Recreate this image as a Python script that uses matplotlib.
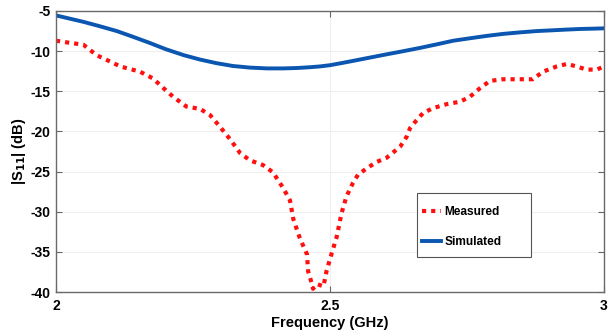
import numpy as np
import matplotlib.pyplot as plt
from matplotlib.patches import Rectangle

plt.rcParams['font.family'] = ['Liberation Sans', 'DejaVu Sans']
plt.rcParams['font.weight'] = 'bold'
plt.rcParams['axes.unicode_minus'] = False

# Measured |S11| (dB) vs frequency (GHz)
meas_f = [2.000, 2.019, 2.050, 2.074, 2.099, 2.117, 2.153, 2.177, 2.196, 2.214,
          2.238, 2.263, 2.281, 2.299, 2.318, 2.336, 2.354, 2.378, 2.396, 2.415,
          2.427, 2.433, 2.445, 2.458, 2.460, 2.467, 2.469, 2.476, 2.488, 2.494,
          2.503, 2.512, 2.521, 2.530, 2.542, 2.551, 2.567, 2.585, 2.603, 2.628,
          2.640, 2.646, 2.658, 2.670, 2.688, 2.713, 2.737, 2.755, 2.774, 2.792,
          2.816, 2.841, 2.870, 2.889, 2.914, 2.932, 2.950, 2.968, 2.987, 3.000]
meas_db = [-8.7, -8.9, -9.2, -10.5, -11.3, -11.9, -12.55, -13.4, -14.6, -15.7,
           -16.9, -17.2, -17.95, -19.4, -21.0, -22.7, -23.6, -24.2, -25.1, -27.1,
           -28.6, -30.9, -33.3, -35.3, -37.4, -39.0, -39.6, -39.0, -39.3, -37.3,
           -35.2, -33.2, -30.2, -28.1, -26.4, -25.4, -24.6, -23.8, -23.3, -21.9,
           -20.65, -19.6, -18.6, -17.7, -17.1, -16.6, -16.3, -15.7, -14.6, -13.7,
           -13.5, -13.5, -13.5, -12.55, -11.9, -11.6, -11.9, -12.3, -12.3, -11.9]

# Simulated |S11| (dB)
sim_f = [2.000, 2.025, 2.050, 2.080, 2.111, 2.140, 2.172, 2.200, 2.233, 2.263,
         2.293, 2.323, 2.354, 2.385, 2.415, 2.440, 2.464, 2.482, 2.500, 2.520,
         2.543, 2.573, 2.603, 2.634, 2.664, 2.695, 2.725, 2.755, 2.786, 2.816,
         2.847, 2.877, 2.907, 2.930, 2.956, 2.980, 3.000]
sim_db = [-5.55, -5.95, -6.35, -6.9, -7.5, -8.2, -9.0, -9.75, -10.5, -11.05,
          -11.5, -11.85, -12.05, -12.15, -12.15, -12.1, -12.0, -11.9, -11.75, -11.5,
          -11.2, -10.8, -10.4, -10.0, -9.6, -9.15, -8.7, -8.4, -8.1, -7.85,
          -7.66, -7.5, -7.4, -7.32, -7.24, -7.2, -7.16]

fig = plt.figure(figsize=(6.16, 3.33), dpi=100)
ax = fig.add_axes([56 / 616, 1 - 292 / 333, 548 / 616, 281 / 333])

ax.plot(meas_f, meas_db, color='#ff1010', linestyle=(0, (1, 1.2)), linewidth=3,
        label='Measured')
ax.plot(sim_f, sim_db, color='#0a56b0', linewidth=2.8, label='Simulated')

ax.set_xlim(2, 3)
ax.set_ylim(-40, -5)
ax.set_xticks([2, 2.5, 3])
ax.set_xticklabels(['2', '2.5', '3'])
ax.set_yticks(np.arange(-40, -4, 5))
ax.grid(True, color='#efefef', linewidth=0.8)
ax.tick_params(direction='in', top=True, right=True, length=4, width=0.8,
               color='#666666', labelsize=10)
ax.tick_params(axis='x', pad=5)
ax.tick_params(axis='y', pad=4)
for s in ax.spines.values():
    s.set_color('#6a6a6a')
    s.set_linewidth(1.0)

ax.set_xlabel('Frequency (GHz)', fontsize=10.5, fontweight='bold', labelpad=2)
ax.set_ylabel('|S$_{\\mathbf{11}}$| (dB)', fontsize=10.5, fontweight='bold', labelpad=2)

# legend box is wider on the right than the legend itself, so draw the frame separately
ax.add_patch(Rectangle((361 / 548, 35 / 281), 114 / 548, 64 / 281,
                       transform=ax.transAxes, facecolor='white',
                       edgecolor='#555555', linewidth=0.8, zorder=4))
leg = ax.legend(loc='upper left', bbox_to_anchor=(366 / 548, 86 / 281),
                fontsize=8.6, frameon=False, handlelength=1.6,
                handletextpad=0.3, labelspacing=1.5, borderpad=0,
                borderaxespad=0)
leg.set_zorder(5)
for t in leg.get_texts():
    t.set_fontweight('bold')

fig.savefig('out.png', dpi=100)
